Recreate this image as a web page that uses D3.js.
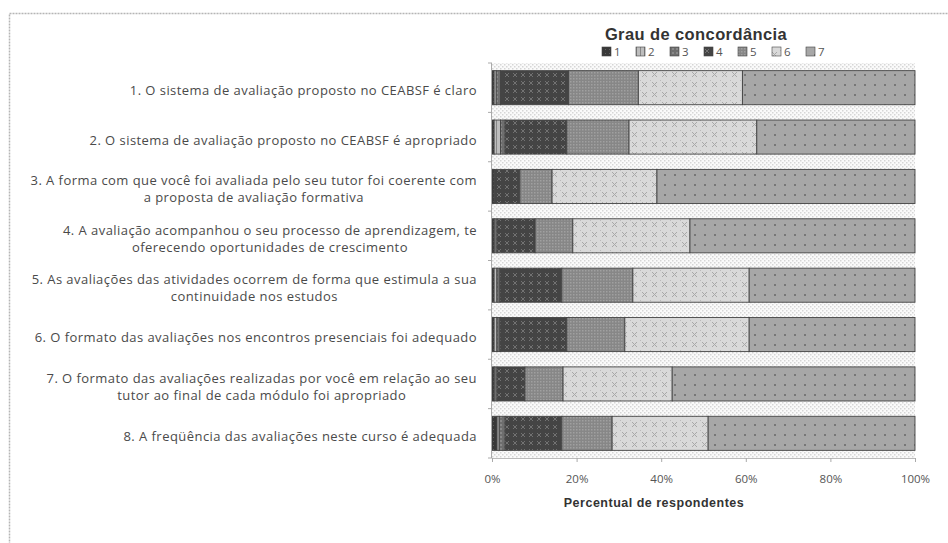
<!DOCTYPE html>
<html><head><meta charset="utf-8">
<script src="https://cdn.jsdelivr.net/npm/d3@7"></script>
<style>html,body{margin:0;padding:0;background:#fff;}svg{display:block;}</style>
</head><body>
<svg id="chart" width="948" height="543"></svg>
<script>
const categories = [
  "1. O sistema de avaliação proposto no CEABSF é claro",
  "2. O sistema de avaliação proposto no CEABSF é apropriado",
  "3. A forma com que você foi avaliada pelo seu tutor foi coerente com\na proposta de avaliação formativa",
  "4. A avaliação acompanhou o seu processo de aprendizagem, te\noferecendo oportunidades de crescimento",
  "5. As avaliações das atividades ocorrem de forma que estimula a sua\ncontinuidade nos estudos",
  "6. O formato das avaliações nos encontros presenciais foi adequado",
  "7. O formato das avaliações realizadas por você em relação ao seu\ntutor ao final de cada módulo foi apropriado",
  "8. A freqüência das avaliações neste curso é adequada"
];
const seriesNames = ["1","2","3","4","5","6","7"];
const s1 = [0.5, 0.5, 0.5, 0.5, 0.5, 0.5, 0.5, 1.2];
const s2 = [0.5, 1.5, 0.0, 0.0, 0.7, 0.7, 0.0, 0.5];
const s3 = [1.0, 1.1, 0.0, 0.7, 0.7, 0.7, 0.7, 1.4];
const s4 = [16.1, 14.6, 6.1, 9.0, 14.6, 15.8, 6.6, 13.4];
const s5 = [16.5, 14.7, 7.6, 8.9, 16.8, 13.7, 9.0, 11.9];
const s6 = [24.6, 30.2, 24.8, 27.7, 27.5, 29.4, 25.8, 22.7];
const s7 = [40.8, 37.4, 61.0, 53.2, 39.2, 39.2, 57.4, 48.9];
const xTicks = [0, 0.2, 0.4, 0.6, 0.8, 1.0];
const chartTitle = "Grau de concordância";
const xTitle = "Percentual de respondentes";

const allSeries = [s1, s2, s3, s4, s5, s6, s7];
const rows = categories.map((c, i) => {
  const r = {cat: c};
  seriesNames.forEach((k, j) => r[k] = allSeries[j][i]);
  return r;
});

const svg = d3.select("#chart");
const defs = svg.append("defs");

function pat(id, size, bg, draw) {
  const p = defs.append("pattern").attr("id", id).attr("patternUnits", "userSpaceOnUse")
    .attr("width", size).attr("height", size);
  p.append("rect").attr("width", size).attr("height", size).attr("fill", bg);
  draw(p);
}
pat("bgdots", 4, "#fafafa", p => {
  p.append("rect").attr("x", 0).attr("y", 0).attr("width", 1.5).attr("height", 1.5).attr("fill", "#d6d6d6");
  p.append("rect").attr("x", 2).attr("y", 2).attr("width", 1.5).attr("height", 1.5).attr("fill", "#d6d6d6");
});
pat("p1", 4, "#383838", p => {
  p.append("rect").attr("x", 1).attr("y", 1).attr("width", 1).attr("height", 1).attr("fill", "#606060");
});
pat("p2", 4, "#bdbdbd", p => {
  p.append("rect").attr("x", 0).attr("y", 0).attr("width", 1).attr("height", 4).attr("fill", "#888");
});
pat("p3", 4, "#6e6e6e", p => {
  p.append("rect").attr("x", 0).attr("y", 0).attr("width", 2).attr("height", 2).attr("fill", "#888");
});
pat("p4", 8, "#444444", p => {
  p.append("path").attr("d", "M1,1L5,5M5,1L1,5").attr("stroke", "#727272").attr("stroke-width", 1);
});
pat("p5", 3, "#878787", p => {
  p.append("rect").attr("x", 0).attr("y", 0).attr("width", 1.5).attr("height", 1.5).attr("fill", "#a0a0a0");
});
pat("p6", 10, "#d9d9d9", p => {
  p.append("path").attr("d", "M2,2L7,7M7,2L2,7").attr("stroke", "#a8a8a8").attr("stroke-width", 1);
  p.append("rect").attr("x", 0).attr("y", 0).attr("width", 1).attr("height", 1).attr("fill", "#bbb");
});
pat("p7", 10, "#a7a7a7", p => {
  p.append("rect").attr("x", 4).attr("y", 4).attr("width", 2).attr("height", 2).attr("fill", "#777");
});
const fills = seriesNames.map((k, i) => `url(#p${i + 1})`);
const color = d3.scaleOrdinal().domain(seriesNames).range(fills);

svg.append("rect").attr("x", 9.5).attr("y", 13.5).attr("width", 990).attr("height", 600)
  .attr("fill", "none").attr("stroke", "#b5b5b5").attr("stroke-dasharray", "2,1").attr("stroke-width", 1.5);

const pLeft = 492, pRight = 915, pTop = 63, pBottom = 458;
const x = d3.scaleLinear().domain([0, 1]).range([pLeft, pRight]);
const y = d3.scaleBand().domain(categories).range([pTop, pBottom]).paddingInner(0.31).paddingOuter(0.155);

svg.append("rect").attr("x", pLeft).attr("y", pTop).attr("width", pRight - pLeft).attr("height", pBottom - pTop)
  .attr("fill", "url(#bgdots)");

const stack = d3.stack().keys(seriesNames).offset(d3.stackOffsetExpand);
const stacked = stack(rows);

svg.append("g").selectAll("g").data(stacked).join("g")
  .attr("fill", d => color(d.key))
  .selectAll("rect").data(d => d).join("rect")
  .attr("x", d => x(d[0]))
  .attr("y", d => y(d.data.cat))
  .attr("width", d => Math.max(0, x(d[1]) - x(d[0])))
  .attr("height", y.bandwidth())
  .attr("stroke", "#444").attr("stroke-width", 0.9);

const xAxis = svg.append("g").attr("transform", `translate(0,${pBottom})`)
  .call(d3.axisBottom(x).tickValues(xTicks).tickFormat(d3.format(".0%")).tickSize(4).tickSizeOuter(0));
xAxis.select(".domain").attr("stroke", "#bbb");
xAxis.selectAll(".tick line").attr("stroke", "#aaa");
xAxis.selectAll(".tick text").attr("font-family", "Open Sans, sans-serif").attr("font-size", 11.5)
  .attr("fill", "#555").attr("dy", "1.55em");

svg.append("line").attr("x1", pLeft - 0.5).attr("x2", pLeft - 0.5).attr("y1", pTop).attr("y2", pBottom)
  .attr("stroke", "#aaa");
svg.append("g").selectAll("line").data(d3.range(categories.length + 1)).join("line")
  .attr("x1", pLeft - 4).attr("x2", pLeft)
  .attr("y1", i => pTop + i * (pBottom - pTop) / categories.length)
  .attr("y2", i => pTop + i * (pBottom - pTop) / categories.length)
  .attr("stroke", "#aaa");

const labG = svg.append("g").attr("font-family", "Open Sans, sans-serif").attr("font-size", 13)
  .attr("letter-spacing", 0.45).attr("fill", "#4a4a4a");
categories.forEach(c => {
  const lines = c.split("\n");
  const cy = y(c) + y.bandwidth() / 2 + 4;
  const t = labG.append("text").attr("y", cy - (lines.length - 1) * 8).attr("dominant-baseline", "middle");
  if (lines.length === 1) {
    t.attr("x", 477).attr("text-anchor", "end").text(lines[0]);
  } else {
    const tmp = labG.append("text").text(lines[0]);
    const w = tmp.node().getComputedTextLength();
    tmp.remove();
    const cx = 477 - w / 2;
    t.attr("text-anchor", "middle");
    lines.forEach((ln, k) => {
      t.append("tspan").attr("x", cx).attr("dy", k === 0 ? 0 : 17).text(ln);
    });
  }
});

svg.append("text").attr("x", 696).attr("y", 40).attr("text-anchor", "middle")
  .attr("font-family", "Liberation Sans, Arial, sans-serif").attr("font-weight", "bold").attr("font-size", 16.5)
  .attr("letter-spacing", 0.4).attr("fill", "#333").text(chartTitle);

const lg = svg.append("g").attr("font-family", "Open Sans, sans-serif").attr("font-size", 11.5).attr("fill", "#555");
seriesNames.forEach((k, i) => {
  const gx = 602 + i * 34;
  lg.append("rect").attr("x", gx).attr("y", 47).attr("width", 9).attr("height", 9)
    .attr("fill", color(k)).attr("stroke", "#444").attr("stroke-width", 0.6);
  lg.append("text").attr("x", gx + 12).attr("y", 56).text(k);
});

svg.append("text").attr("x", 654).attr("y", 507).attr("text-anchor", "middle")
  .attr("font-family", "Liberation Sans, Arial, sans-serif").attr("font-weight", "bold").attr("font-size", 12.5)
  .attr("letter-spacing", 0.5).attr("fill", "#333").text(xTitle);
</script>
</body></html>
